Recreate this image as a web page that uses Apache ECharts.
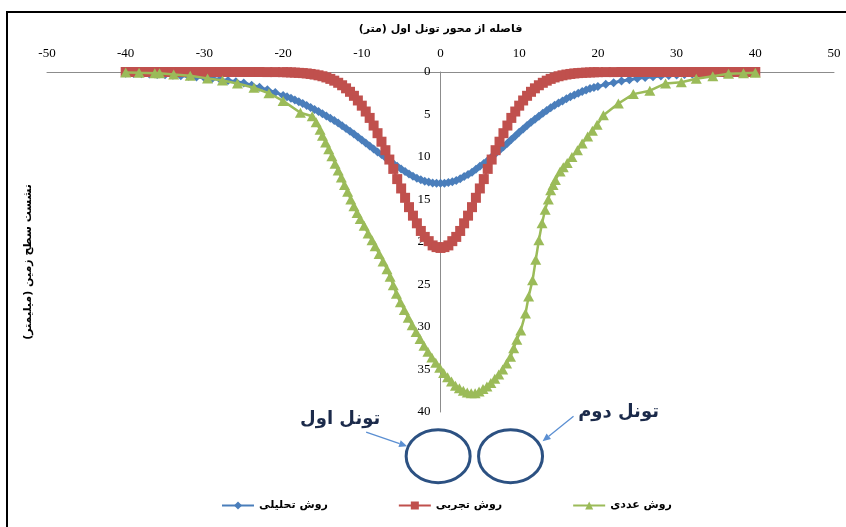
<!DOCTYPE html>
<html>
<head>
<meta charset="utf-8">
<script src="https://cdn.jsdelivr.net/npm/echarts@6/dist/echarts.min.js"></script>
<style>html,body{margin:0;padding:0;background:#fff}#c{width:846px;height:527px}</style>
</head>
<body>
<div id="c"></div>
<script>
// x positions (m) shared by the analytical and empirical curves
const gridX = [-40,-39,-38,-37,-36,-35,-34,-33,-32,-31,-30,-29,-28,-27,-26,-25,-24,-23,-22,-21,
  -20,-19.5,-19,-18.5,-18,-17.5,-17,-16.5,-16,-15.5,-15,-14.5,-14,-13.5,-13,-12.5,-12,-11.5,-11,-10.5,
  -10,-9.5,-9,-8.5,-8,-7.5,-7,-6.5,-6,-5.5,-5,-4.5,-4,-3.5,-3,-2.5,-2,-1.5,-1,-0.5,
  0,0.5,1,1.5,2,2.5,3,3.5,4,4.5,5,5.5,6,6.5,7,7.5,8,8.5,9,9.5,
  10,10.5,11,11.5,12,12.5,13,13.5,14,14.5,15,15.5,16,16.5,17,17.5,18,18.5,19,19.5,20,
  21,22,23,24,25,26,27,28,29,30,31,32,33,34,35,36,37,38,39,40];

// روش تحلیلی (analytical) settlement, mm
const analytical = [0.15,0.17,0.2,0.24,0.28,0.33,0.38,0.44,0.5,0.58,0.67,0.77,0.88,1.0,1.15,1.3,1.55,1.8,2.1,2.4,
  2.75,2.92,3.1,3.3,3.5,3.72,3.95,4.17,4.4,4.65,4.9,5.17,5.45,5.72,6.0,6.32,6.65,6.97,7.3,7.65,
  8.0,8.35,8.7,9.05,9.4,9.72,10.05,10.4,10.75,11.08,11.4,11.7,12.0,12.25,12.5,12.68,12.85,12.95,13.05,13.08,
  13.1,13.08,13.0,12.9,12.75,12.55,12.3,12.05,11.8,11.45,11.1,10.75,10.4,10.0,9.6,9.2,8.8,8.38,7.95,7.52,
  7.1,6.7,6.3,5.92,5.55,5.2,4.85,4.52,4.2,3.92,3.65,3.4,3.15,2.92,2.7,2.5,2.3,2.12,1.95,1.82,1.7,
  1.45,1.25,1.05,0.9,0.75,0.65,0.55,0.47,0.4,0.35,0.3,0.26,0.22,0.19,0.16,0.14,0.12,0.1,0.09,0.08];

// روش تجربی (empirical) settlement, mm
const empirical = [0,0,0,0,0,0,0,0,0,0,0,0,0,0,0,0,0,0,0.01,0.01,
  0.02,0.03,0.05,0.07,0.1,0.13,0.17,0.23,0.3,0.39,0.5,0.64,0.81,1.02,1.27,1.56,1.92,2.33,2.8,3.35,
  3.96,4.65,5.4,6.3,7.2,8.2,9.2,10.3,11.4,12.6,13.7,14.8,15.9,16.9,17.8,18.7,19.4,19.9,20.4,20.6,
  20.7,20.6,20.4,19.9,19.4,18.7,17.8,16.9,15.9,14.8,13.7,12.6,11.4,10.3,9.2,8.2,7.2,6.3,5.4,4.65,
  3.96,3.35,2.8,2.33,1.92,1.56,1.27,1.02,0.81,0.64,0.5,0.39,0.3,0.23,0.17,0.13,0.1,0.07,0.05,0.03,0.02,
  0.01,0.01,0,0,0,0,0,0,0,0,0,0,0,0,0,0,0,0,0,0];

// روش عددی (numerical) settlement: x (m) and value (mm)
const numericalX = [-40,-38.3,-36.3,-35.7,-33.9,-31.8,-29.6,-27.7,-25.8,-23.7,-21.8,-20,-17.8,-16.3,
  -15.8,-15.3,-15.0,-14.6,-14.2,-13.8,-13.4,-13.0,-12.6,-12.2,-11.8,-11.4,-11.0,-10.6,-10.2,-9.7,-9.2,-8.7,-8.3,-7.8,
  -7.3,-6.8,-6.4,-6.0,-5.6,-5.1,-4.6,-4.1,-3.6,-3.1,-2.6,-2.1,-1.6,-1.1,-0.6,-0.1,0.4,0.9,1.4,1.9,2.4,2.9,3.4,3.9,
  4.4,4.9,5.4,5.9,6.4,6.9,7.4,7.9,8.4,8.9,9.3,9.7,10.2,10.8,11.2,11.7,12.1,12.5,12.9,13.3,13.7,14.0,14.3,14.6,
  15.2,15.6,16.1,16.7,17.4,18.0,18.7,19.3,19.9,20.7,22.6,24.5,26.6,28.6,30.6,32.5,34.6,36.6,38.5,40];
const numerical = [0.05,0.1,0.15,0.15,0.3,0.45,0.75,1.0,1.35,1.85,2.5,3.4,4.8,5.2,
  5.9,6.8,7.5,8.3,9.1,9.9,10.8,11.6,12.4,13.3,14.1,15.0,15.8,16.6,17.3,18.1,19.0,19.8,20.5,21.4,
  22.3,23.2,24.1,25.1,26.1,27.1,28.0,28.9,29.8,30.6,31.4,32.2,32.9,33.6,34.2,34.8,35.4,35.9,36.4,36.9,37.2,37.5,37.7,37.8,
  37.8,37.6,37.3,37.0,36.6,36.1,35.6,35.0,34.3,33.5,32.5,31.5,30.4,28.4,26.4,24.5,22.1,19.8,17.8,16.2,15.0,13.9,13.3,12.7,
  11.7,11.2,10.7,10.0,9.2,8.4,7.6,6.9,6.2,5.1,3.7,2.6,2.2,1.35,1.2,0.8,0.5,0.2,0.15,0.1];

const seriesNames = ['روش تحلیلی', 'روش تجربی', 'روش عددی'];
const xTitle = 'فاصله از محور تونل اول (متر)';
const yTitle = 'نشست سطح زمین (میلیمتر)';
const tunnelLabels = ['تونل اول', 'تونل دوم'];
// tunnel centres in chart units (x in m, depth in axis units)
const tunnelX = [-0.3, 8.9];
const tunnelDepth = 45.2;

const RLM = '\u200F';
const pairs = (xs, ys) => xs.map((x, i) => [x, ys[i]]);
const persianFont = 'DejaVu Sans';
const GRID_LEFT = 47;

const chart = echarts.init(document.getElementById('c'), null, {renderer: 'canvas'});
const option = {
  animation: false,
  backgroundColor: '#fff',
  grid: {left: GRID_LEFT, right: 12, top: 72, bottom: 115},
  xAxis: {
    type: 'value', position: 'top', min: -50, max: 50, interval: 10,
    axisLine: {onZero: false, lineStyle: {color: '#8c8c8c', width: 1}},
    axisTick: {show: false}, splitLine: {show: false},
    axisLabel: {fontFamily: 'Liberation Serif', fontSize: 13, color: '#000', margin: 12},
    name: RLM + xTitle + RLM, nameLocation: 'middle', nameGap: 37,
    nameTextStyle: {fontFamily: persianFont, fontSize: 11, fontWeight: 'bold', color: '#000'}
  },
  yAxis: {
    type: 'value', inverse: true, min: 0, max: 40, interval: 5,
    axisLine: {onZero: false, lineStyle: {color: '#8c8c8c', width: 1}},
    axisTick: {show: false}, splitLine: {show: false},
    axisLabel: {fontFamily: 'Liberation Serif', fontSize: 13, color: '#000', margin: 10}
  },
  legend: {
    bottom: 11, left: 216, itemGap: 70, itemWidth: 32, itemHeight: 10,
    textStyle: {fontFamily: persianFont, fontSize: 11, fontWeight: 'bold', color: '#000'},
    data: seriesNames
  },
  series: [
    {name: seriesNames[0], type: 'line', data: pairs(gridX, analytical), symbol: 'diamond', symbolSize: 9,
     itemStyle: {color: '#4A7EBB'}, lineStyle: {color: '#4A7EBB', width: 3}, z: 2},
    {name: seriesNames[1], type: 'line', data: pairs(gridX, empirical), symbol: 'rect', symbolSize: 10,
     itemStyle: {color: '#C0504D'}, lineStyle: {color: '#C0504D', width: 2.5}, z: 3},
    {name: seriesNames[2], type: 'line', data: pairs(numericalX, numerical), symbol: 'triangle', symbolSize: [11, 10],
     itemStyle: {color: '#9BBB59'}, lineStyle: {color: '#9BBB59', width: 2.5}, z: 4}
  ]
};
chart.setOption(option);

// place the vertical axis (line and labels) at x = 0
const zeroPx = chart.convertToPixel({xAxisIndex: 0}, 0);
chart.setOption({yAxis: {offset: -(zeroPx - GRID_LEFT)}});

function arrow(from, to, color) {
  const dx = to[0] - from[0], dy = to[1] - from[1];
  const len = Math.sqrt(dx * dx + dy * dy);
  const ux = dx / len, uy = dy / len;
  const hl = 8, hw = 3.5;
  const bx = to[0] - ux * hl, by = to[1] - uy * hl;
  return [
    {type: 'line', shape: {x1: from[0], y1: from[1], x2: bx, y2: by}, style: {stroke: color, lineWidth: 1.3}, z: 10},
    {type: 'polygon', shape: {points: [to, [bx - uy * hw, by + ux * hw], [bx + uy * hw, by - ux * hw]]}, style: {fill: color}, z: 10}
  ];
}

const c1 = chart.convertToPixel({gridIndex: 0}, [tunnelX[0], tunnelDepth]);
const c2 = chart.convertToPixel({gridIndex: 0}, [tunnelX[1], tunnelDepth]);
const rx = 32, ry = 26.5;
const ellipseStyle = {fill: 'none', stroke: '#2C5182', lineWidth: 3};
const arrowColor = '#5B8FD2';
const graphics = [
  {type: 'rect', shape: {x: 7, y: 12, width: 900, height: 600}, style: {fill: 'none', stroke: '#000', lineWidth: 2}, z: 0},
  {type: 'text', x: 28, y: 262, rotation: Math.PI / 2,
   style: {text: RLM + yTitle + RLM, font: 'bold 11px "DejaVu Sans"', fill: '#000', textAlign: 'center', textVerticalAlign: 'middle'}},
  {type: 'ellipse', shape: {cx: c1[0], cy: c1[1], rx: rx, ry: ry}, style: ellipseStyle, z: 10},
  {type: 'ellipse', shape: {cx: c2[0], cy: c2[1], rx: rx, ry: ry}, style: ellipseStyle, z: 10},
  {type: 'text', x: c1[0] - 98, y: c1[1] - 37,
   style: {text: tunnelLabels[0], font: 'bold 18px "DejaVu Sans"', fill: '#1B2A4A', textAlign: 'center', textVerticalAlign: 'middle'}, z: 10},
  {type: 'text', x: c2[0] + 108, y: c2[1] - 44,
   style: {text: tunnelLabels[1], font: 'bold 18px "DejaVu Sans"', fill: '#1B2A4A', textAlign: 'center', textVerticalAlign: 'middle'}, z: 10}
].concat(
  arrow([c1[0] - 72, c1[1] - 24], [c1[0] - 31, c1[1] - 10], arrowColor),
  arrow([c2[0] + 63, c2[1] - 40], [c2[0] + 32, c2[1] - 15], arrowColor)
);
chart.setOption({graphic: {elements: graphics}});
</script>
</body>
</html>
